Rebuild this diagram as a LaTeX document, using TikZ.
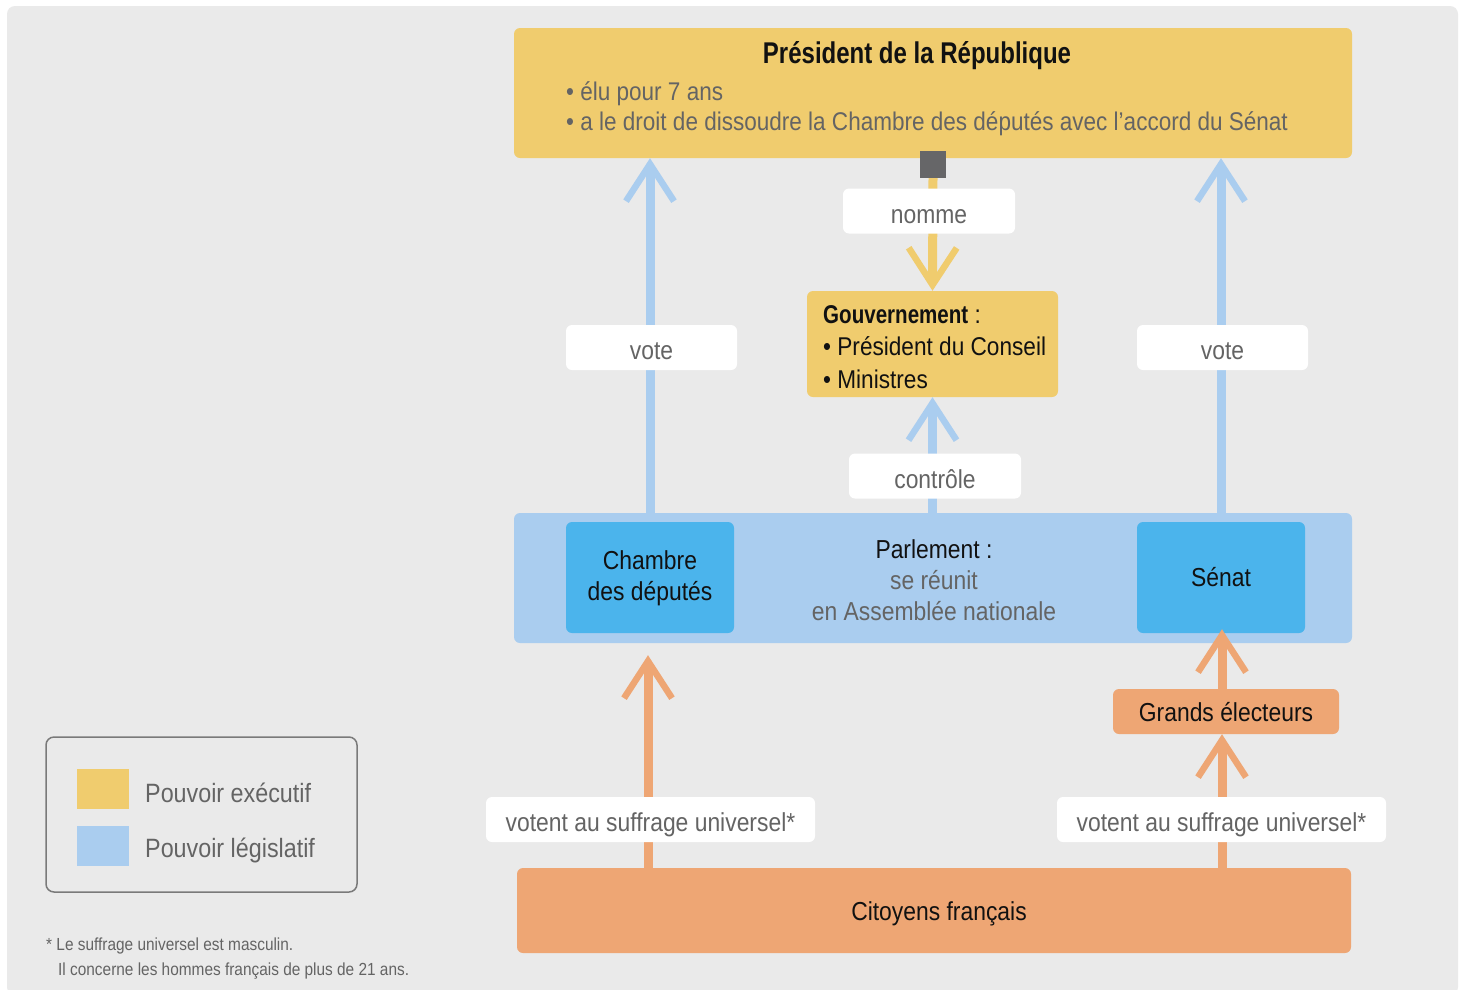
\documentclass[tikz,border=0pt]{standalone}
\usepackage{fontspec}
\setmainfont{Liberation Sans}[FakeStretch=0.88,BoldFeatures={FakeStretch=0.8}]
\usetikzlibrary{arrows.meta}
\definecolor{bg}{HTML}{EAEAEA}
\definecolor{jaune}{HTML}{F0CC6E}
\definecolor{bleuclair}{HTML}{AACDEF}
\definecolor{bleu}{HTML}{4BB4EC}
\definecolor{orangec}{HTML}{EEA674}
\definecolor{gristxt}{HTML}{646464}
\definecolor{noir}{HTML}{111111}
\definecolor{carre}{HTML}{666668}
\definecolor{cadre}{HTML}{7A7A7A}
\tikzset{
  box/.style={rounded corners=6pt, inner sep=0pt, draw=none},
  lbl/.style={fill=white, rounded corners=6pt, inner sep=0pt, text=gristxt,
    font=\fontsize{26}{31}\selectfont, text height=24pt, text depth=0pt},
  txt/.style={inner sep=0pt, font=\fontsize{26}{31}\selectfont},
  conn/.style={line width=9pt, -{Straight Barb[length=37pt,width=48pt,line width=6.5pt]}},
}
\begin{document}
\begin{tikzpicture}[x=1pt,y=-1pt]
\useasboundingbox (0,0) rectangle (1465,989);
\fill[white] (0,0) rectangle (1465,989);
\fill[bg, rounded corners=8pt] (7,6) rectangle (1458,995);

% boxes
\node[box, fill=jaune, minimum width=838pt, minimum height=130pt] (pres) at (933,93) {};
\node[box, fill=jaune, minimum width=251pt, minimum height=106pt] (gouv) at (932.5,344) {};
\node[box, fill=bleuclair, minimum width=838pt, minimum height=130pt] (parl) at (933,578) {};
\node[box, fill=bleu, minimum width=168pt, minimum height=111pt] (chambre) at (650,577.5) {};
\node[box, fill=bleu, minimum width=168pt, minimum height=111pt] (senat) at (1221,577.5) {};
\node[box, fill=orangec, minimum width=226pt, minimum height=45pt] (grands) at (1226,711.5) {};
\node[box, fill=orangec, minimum width=834pt, minimum height=85pt] (citoyens) at (934,910.5) {};
\node[inner sep=0pt, fill=carre, minimum width=26pt, minimum height=27pt] (sq) at (933,164.5) {};

% texts in boxes
\node[txt, font=\bfseries\fontsize{30}{36}\selectfont, text=noir] (ptitre) at (917,56) {Président de la République};
\node[txt, text=gristxt, anchor=west, align=left, font=\fontsize{25.6}{31}\selectfont] (pbul) at (566,109) {• élu pour 7 ans\\[-1pt]• a le droit de dissoudre la Chambre des députés avec l'accord du Sénat};
\node[txt, text=noir, anchor=west, align=left, font=\fontsize{25.7}{32.5}\selectfont] (gtxt) at (823,347) {\textbf{Gouvernement} :\\• Président du Conseil\\• Ministres};
\node[txt, text=noir, align=center] (ptxt) at (934,580) {Parlement :\\\textcolor{gristxt}{se réunit}\\\textcolor{gristxt}{en Assemblée nationale}};
\node[txt, text=noir, align=center, yshift=-1pt] (ctxt) at (chambre) {Chambre\\des députés};
\node[txt, text=noir] (stxt) at (senat) {Sénat};
\node[txt, text=noir, yshift=-1pt] (gtx) at (grands) {Grands électeurs};
\node[txt, text=noir, yshift=-3pt, xshift=5pt] (cittxt) at (citoyens) {Citoyens français};

% connectors
\draw[conn, draw=jaune] (sq.south) -- (gouv.north);
\draw[conn, draw=bleuclair] (parl.north -| chambre) -- (pres.south -| chambre);
\draw[conn, draw=bleuclair] (parl.north -| senat) -- (pres.south -| senat);
\draw[conn, draw=bleuclair] (parl.north -| gouv) -- (gouv.south);
\coordinate (cl) at (648,868);
\coordinate (cr) at (1222,868);
\draw[conn, draw=orangec, shorten >=12pt] (cl) -- (cl |- parl.south);
\draw[conn, draw=orangec] (cr) -- (cr |- grands.south);
\draw[conn, draw=orangec, shorten >=-4pt] (cr |- grands.north) -- (cr |- senat.south);

% labels
\node[lbl, minimum width=172pt, minimum height=45pt] (lnomme) at (929,211) {nomme};
\node[lbl, minimum width=172pt, minimum height=45pt] (lcontrole) at (935,476) {contrôle};
\node[lbl, minimum width=171pt, minimum height=45pt] (lvote1) at (651.5,347.5) {vote};
\node[lbl, minimum width=171pt, minimum height=45pt] (lvote2) at (1222.5,347.5) {vote};
\node[lbl, minimum width=329pt, minimum height=45pt] (lsuf1) at (650.5,819.5) {votent au suffrage universel*};
\node[lbl, minimum width=329pt, minimum height=45pt] (lsuf2) at (1221.5,819.5) {votent au suffrage universel*};

% legend
\node[draw=cadre, line width=1.5pt, rounded corners=8pt, minimum width=311pt, minimum height=155pt, inner sep=0pt] (legende) at (201.5,814.5) {};
\node[fill=jaune, inner sep=0pt, minimum width=52pt, minimum height=40pt] (sw1) at (103,789) {};
\node[fill=bleuclair, inner sep=0pt, minimum width=52pt, minimum height=40pt] (sw2) at (103,846) {};
\node[txt, text=gristxt, anchor=west, font=\fontsize{26.5}{32}\selectfont] (leg1) at (145,793) {Pouvoir exécutif};
\node[txt, text=gristxt, anchor=west, font=\fontsize{26.5}{32}\selectfont] (leg2) at (145,850) {Pouvoir législatif};

% footnote
\node[txt, text=gristxt, anchor=west, font=\fontsize{17.5}{21}\selectfont] (fn1) at (46,946) {* Le suffrage universel est masculin.};
\node[txt, text=gristxt, anchor=west, font=\fontsize{17.5}{21}\selectfont] (fn2) at (58,971) {Il concerne les hommes français de plus de 21 ans.};
\end{tikzpicture}
\end{document}
